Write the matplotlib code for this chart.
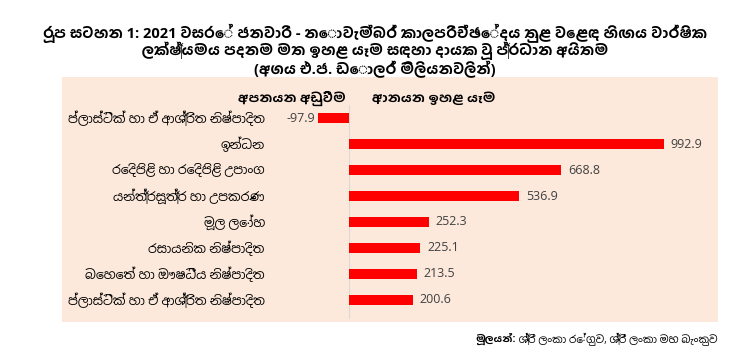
import numpy as np
import matplotlib.pyplot as plt
import matplotlib.transforms as mtransforms

# Data
categories = [
    "ප්ලාස්ටික් හා ඒ ආශ්‍රිත නිෂ්පාදිත",
    "ඉන්ධන",
    "රෙදිපිළි හා රෙදිපිළි උපාංග",
    "යන්ත්‍රසූත්‍ර හා උපකරණ",
    "මූල ලෝහ",
    "රසායනික නිෂ්පාදිත",
    "බෙහෙත් හා ඖෂධීය නිෂ්පාදිත",
    "ප්ලාස්ටික් හා ඒ ආශ්‍රිත නිෂ්පාදිත",
]
values = [-97.9, 992.9, 668.8, 536.9, 252.3, 225.1, 213.5, 200.6]
header_left = "අපනයන අඩුවීම"
header_right = "ආනයන ඉහළ යෑම"
title_lines = [
    "රූප සටහන 1: 2021 වසරේ ජනවාරි - නොවැම්බර් කාලපරිච්ඡේදය තුළ වෙළඳ හිඟය වාර්ෂික",
    "ලක්ෂ්‍යමය පදනම මත ඉහළ යෑම සඳහා දායක වූ ප්‍රධාන අයිතම",
    "(අගය එ.ජ. ඩොලර් මිලියනවලින්)",
]
source_bold = "මූලයන්:"
source_text = " ශ්‍රී ලංකා රේගුව, ශ්‍රී ලංකා මහ බැංකුව"

REG = ['Open Sans', 'Noto Sans Sinhala', 'DejaVu Sans']
BOLD = ['Open Sans', 'Hind Colombo', 'Noto Sans Sinhala', 'DejaVu Sans']
plt.rcParams['font.family'] = REG

fig = plt.figure(figsize=(7.5, 3.55), dpi=100)
fig.patch.set_facecolor("white")
ax = fig.add_axes([0.083, 0.093, 0.874, 0.690])
ax.set_facecolor("#fce9dc")

y = np.arange(len(categories))
ax.barh(y, values, height=0.36, color="#ff0000", zorder=2)
ax.set_xlim(-905, 1164)
ax.set_ylim(len(categories) - 1 + 0.85, -1.58)

# zero line
ax.plot([0, 0], [-0.5, len(categories) - 0.3], color="#d9d9d9", lw=0.8, zorder=1)

for s in ax.spines.values():
    s.set_visible(False)
ax.set_xticks([])
ax.set_yticks([])

lab_tr = mtransforms.blended_transform_factory(ax.transAxes, ax.transData)
for yi, cat, v in zip(y, categories, values):
    ax.text(0.309, yi, cat, transform=lab_tr, ha="right", va="center",
            fontsize=9, color="#000000")
    if v < 0:
        ax.text(v - 10, yi, f"{v:.1f}", ha="right", va="center",
                fontsize=9, color="#404040")
    else:
        ax.text(v + 22, yi, f"{v:.1f}", ha="left", va="center",
                fontsize=9, color="#404040")

ax.text(-10, -0.77, header_left, ha="right", va="center",
        fontsize=9.5, fontweight="bold", family=BOLD, color="#000000")
ax.text(72, -0.77, header_right, ha="left", va="center",
        fontsize=9.5, fontweight="bold", family=BOLD, color="#000000")

for i, line in enumerate(title_lines):
    fig.text(0.5, 1 - (33 + i * 18) / 355, line, ha="center", va="center",
             fontsize=10.5, fontweight="bold", family=BOLD, color="#000000")

src = fig.text(0.957, 1 - 339 / 355, source_text, ha="right", va="center",
               fontsize=7.5, color="#000000")
fig.canvas.draw()
bb = src.get_window_extent()
fig.text(bb.x0 / fig.bbox.width, 1 - 339 / 355, source_bold, ha="right", va="center",
         fontsize=7.5, fontweight="bold", family=BOLD, color="#000000")

fig.savefig("out.png", dpi=100, facecolor="white")
